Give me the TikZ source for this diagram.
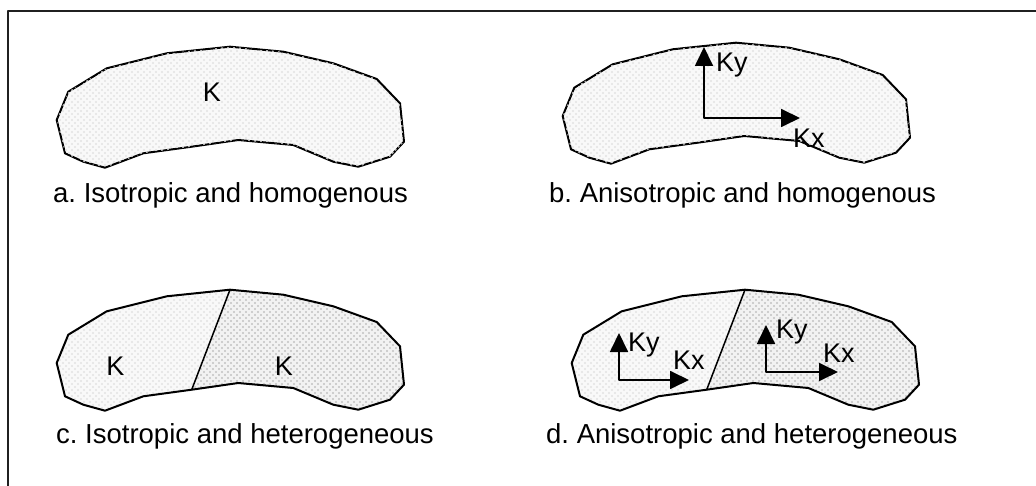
\documentclass[tikz,border=0pt]{standalone}
\usepackage{fontspec}
\setmainfont{Liberation Sans}
\usetikzlibrary{arrows.meta, patterns.meta}
\frenchspacing

\tikzdeclarepattern{
  name=stipple,
  type=uncolored,
  bounding box={(-1.2pt,-1.2pt) and (4.2pt,4.2pt)},
  tile size={(6pt,6pt)},
  code={
    \tikzset{x=1pt, y=1pt}
    \fill (0,0) circle (1.1pt);
    \fill (3,3) circle (1.1pt);
  }
}

\begin{document}
\begin{tikzpicture}[x=1pt, y=-1pt, line join=round,
  rock/.style={draw=black, line width=2pt},
  rocklight/.style={fill=gray!5, postaction={pattern=stipple, pattern color=gray!22}},
  rockdark/.style={fill=gray!10, postaction={pattern=stipple, pattern color=gray!48}},
  fullrock/.style={insert path={(56.7,120) -- (68.3,91.7) -- (106.7,68.3) -- (166.7,53.3) -- (230,46.7) -- (283.3,51.7) -- (333.3,63.3) -- (376.7,79) -- (400,103.3) -- (404,141.7) -- (390,156.7) -- (358.3,166.7) -- (333.3,161.7) -- (293.3,145) -- (238.3,140) -- (191.7,146.7) -- (143.3,153.3) -- (105,167.7) -- (83.3,161.7) -- (65,153.3) -- cycle}},
  leftrock/.style={insert path={(191.7,146.7) -- (143.3,153.3) -- (105,167.7) -- (83.3,161.7) -- (65,153.3) -- (56.7,120) -- (68.3,91.7) -- (106.7,68.3) -- (166.7,53.3) -- (230,46.7) -- cycle}},
  rightrock/.style={insert path={(230,46.7) -- (283.3,51.7) -- (333.3,63.3) -- (376.7,79) -- (400,103.3) -- (404,141.7) -- (390,156.7) -- (358.3,166.7) -- (333.3,161.7) -- (293.3,145) -- (238.3,140) -- (191.7,146.7) -- cycle}},
  kaxis/.style={line width=1.8pt, {Triangle[length=19pt, width=18pt]}-{Triangle[length=19pt, width=18pt]}},
  kmark/.style={font=\fontsize{27}{31}\selectfont, inner sep=0pt, anchor=base},
  klabel/.style={font=\fontsize{27}{31}\selectfont, inner sep=0pt, anchor=base west},
  caption/.style={font=\fontsize{27.5}{32}\selectfont, inner sep=0pt, anchor=base west}]
  \useasboundingbox (0,0) rectangle (1036,486);

  % frame
  \draw[line width=2pt, gray!25!black] (8,486) -- (8,11.5) -- (1036,11.5);

  % Panel a: isotropic, homogenous
  \path[rock, rocklight, fullrock];
  \node[kmark] (kA) at (212,102) {K};
  \node[caption] (capA) at (53,203) {a. Isotropic and homogenous};

  % Panel b: anisotropic, homogenous
  \begin{scope}[shift={(506,-4)}]
    \path[rock, rocklight, fullrock];
  \end{scope}
  \coordinate (bO) at (704,118);
  \coordinate (bY) at (704,47);
  \coordinate (bX) at (800,118);
  \draw[kaxis] (bY) -- (bO) -- (bX);
  \node[klabel] (bKy) at (716,72) {Ky};
  \node[klabel] (bKx) at (793,148) {Kx};
  \node[caption] (capB) at (549,203) {b. Anisotropic and homogenous};

  % Panel c: isotropic, heterogeneous
  \begin{scope}[shift={(0,243)}]
    \path[rocklight, leftrock];
    \path[rockdark, rightrock];
    \draw[rock, fullrock];
    \draw[line width=1.5pt] (230,46.7) -- (191.7,146.7);
  \end{scope}
  \node[kmark] (kCl) at (115.5,375) {K};
  \node[kmark] (kCr) at (284,375) {K};
  \node[caption] (capC) at (56,443) {c. Isotropic and heterogeneous};

  % Panel d: anisotropic, heterogeneous
  \begin{scope}[shift={(515,243)}]
    \path[rocklight, leftrock];
    \path[rockdark, rightrock];
    \draw[rock, fullrock];
    \draw[line width=1.5pt] (230,46.7) -- (191.7,146.7);
  \end{scope}
  \coordinate (dlO) at (619,380);
  \coordinate (dlY) at (619,333);
  \coordinate (dlX) at (689,380);
  \draw[kaxis] (dlY) -- (dlO) -- (dlX);
  \node[klabel] (dlKy) at (628,352) {Ky};
  \node[klabel] (dlKx) at (673,369) {Kx};
  \coordinate (drO) at (766,372);
  \coordinate (drY) at (766,325);
  \coordinate (drX) at (838,372);
  \draw[kaxis] (drY) -- (drO) -- (drX);
  \node[klabel] (drKy) at (776,338) {Ky};
  \node[klabel] (drKx) at (823,362) {Kx};
  \node[caption] (capD) at (546,443) {d. Anisotropic and heterogeneous};
\end{tikzpicture}
\end{document}
